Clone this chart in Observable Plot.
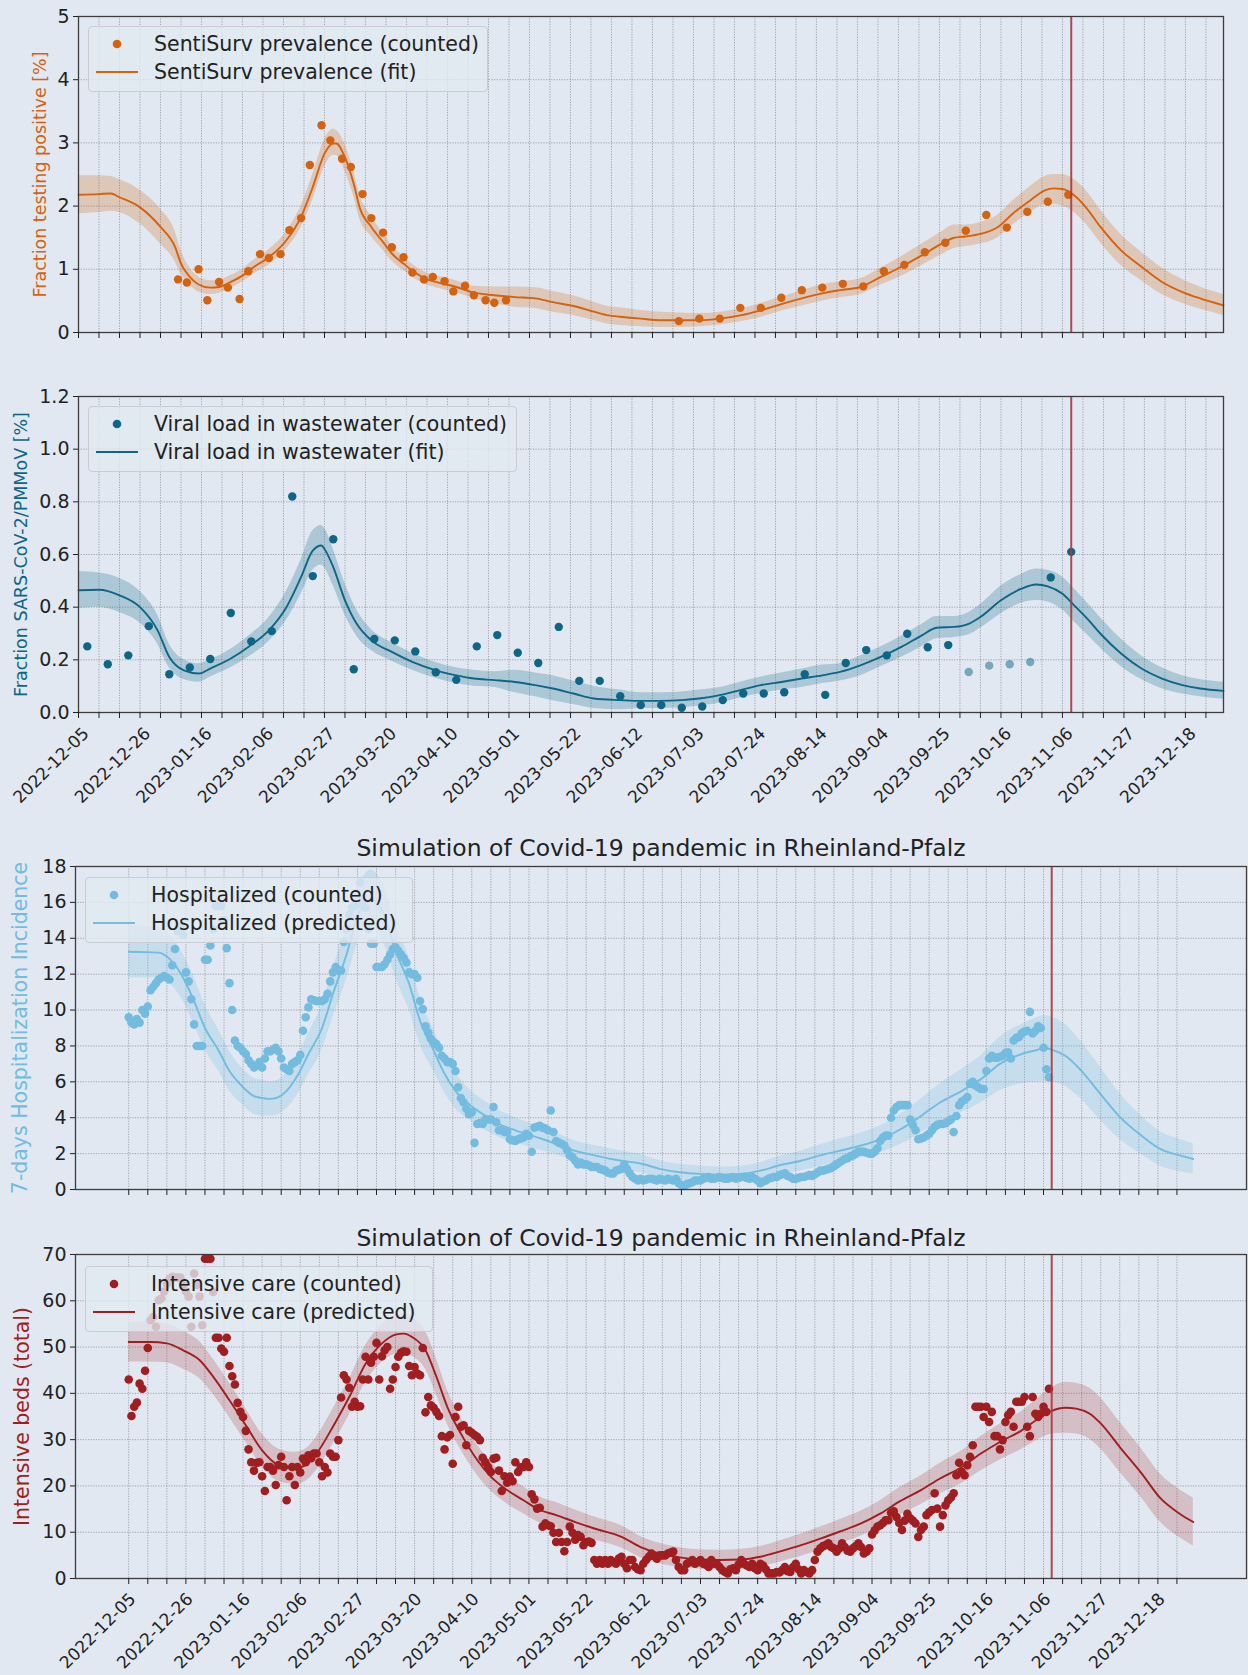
<!DOCTYPE html>
<html>
<head>
<meta charset="utf-8">
<script src="https://cdn.jsdelivr.net/npm/d3@7"></script>
<script src="https://cdn.jsdelivr.net/npm/@observablehq/plot@0.6"></script>
<style>
  html, body { margin: 0; padding: 0; background: #e1e8f1; }
  #fig { position: relative; width: 1248px; height: 1675px; background: #e1e8f1; font-family: "DejaVu Sans", sans-serif; overflow: hidden; }
  .legend { position: absolute; box-sizing: border-box; background: rgba(225,232,241,0.8); border: 1px solid #c9cdd3; border-radius: 4px; }
  .legend svg { position: absolute; left: 0; top: 0; }
  .lt { position: absolute; transform: translateY(-52%); font-size: 20.5px; color: #222; white-space: nowrap; }
</style>
</head>
<body>
<div id="fig"></div>
<script>
// ---------------- DATA ----------------
const startDate = "2022-12-05";           // day 0
const nowcastDate = "2023-11-09";         // vertical marker
const tickLabels = ["2022-12-05","2022-12-26","2023-01-16","2023-02-06","2023-02-27","2023-03-20","2023-04-10",
  "2023-05-01","2023-05-22","2023-06-12","2023-07-03","2023-07-24","2023-08-14","2023-09-04","2023-09-25",
  "2023-10-16","2023-11-06","2023-11-27","2023-12-18"];

// Panel 1: SentiSurv prevalence (days since start, %)
const sentiDays = [34,37,41,44,48,51,55,58,62,65,69,72,76,79,83,86,90,93,97,100,104,107,111,114,118,121,125,128,132,135,139,142,146,
  205,212,219,226,233,240,247,254,261,268,275,282,289,296,303,310,317,324,331,338];
const sentiValues = [0.84,0.79,1.00,0.51,0.80,0.71,0.53,0.97,1.24,1.18,1.24,1.62,1.81,2.65,3.28,3.04,2.75,2.62,2.19,1.81,1.58,1.35,1.19,0.95,0.84,0.88,0.81,0.65,0.74,0.59,0.51,0.47,0.51,
  0.18,0.22,0.22,0.39,0.39,0.55,0.67,0.71,0.77,0.73,0.97,1.07,1.27,1.42,1.61,1.86,1.66,1.91,2.07,2.18];
const sentiFitDays = [0,7,11,14,21,28,33,35,38,41,45,48,52,56,60,65,71,76,80,84,87,88,91,94,96,100,104,107,111,114,118,122,129,135,142,149,156,162,169,176,
  181,185,192,199,206,212,219,226,233,240,247,254,260,267,274,281,288,295,299,303,308,314,319,325,330,333,336,340,344,349,356,363,370,377,383,391];
const sentiFitValues = [2.18,2.19,2.20,2.14,1.98,1.67,1.35,1.09,0.88,0.76,0.71,0.72,0.80,0.90,1.04,1.19,1.46,1.83,2.30,2.83,2.99,2.99,2.77,2.35,1.98,1.67,1.43,1.25,1.09,0.98,
  0.86,0.80,0.72,0.63,0.59,0.56,0.54,0.48,0.42,0.33,0.27,0.25,0.22,0.195,0.195,0.195,0.22,0.27,0.35,0.45,0.54,0.62,0.67,0.72,0.88,1.04,1.22,1.41,1.50,1.52,
  1.56,1.67,1.88,2.09,2.25,2.28,2.27,2.17,1.98,1.67,1.30,1.04,0.80,0.64,0.54,0.43];
const sentiFitLow = [1.88,1.90,1.92,1.90,1.72,1.40,1.12,0.92,0.75,0.64,0.60,0.62,0.70,0.80,0.93,1.07,1.32,1.66,2.10,2.62,2.80,2.80,2.55,2.15,1.80,1.52,1.30,1.13,0.98,0.88,
  0.77,0.71,0.63,0.54,0.46,0.40,0.38,0.32,0.27,0.19,0.13,0.11,0.09,0.08,0.08,0.09,0.12,0.17,0.24,0.34,0.42,0.50,0.55,0.60,0.75,0.89,1.06,1.24,1.33,1.36,
  1.40,1.50,1.70,1.90,2.02,2.03,2.00,1.90,1.72,1.42,1.06,0.82,0.60,0.46,0.37,0.27];
const sentiFitHigh = [2.48,2.48,2.47,2.42,2.25,1.95,1.60,1.30,1.02,0.88,0.82,0.83,0.90,1.00,1.15,1.31,1.60,2.00,2.50,3.05,3.22,3.20,2.98,2.55,2.18,1.84,1.57,1.38,1.20,1.08,
  0.96,0.90,0.82,0.73,0.72,0.72,0.71,0.65,0.58,0.48,0.41,0.39,0.35,0.32,0.31,0.30,0.32,0.37,0.46,0.56,0.66,0.76,0.80,0.85,1.02,1.20,1.40,1.60,1.70,1.70,
  1.74,1.86,2.08,2.31,2.47,2.50,2.50,2.42,2.25,1.94,1.55,1.27,1.02,0.84,0.72,0.60];

// Panel 2: viral load in wastewater
const wwDays = [3,10,17,24,31,38,45,52,59,66,73,80,87,94,101,108,115,122,129,136,143,150,157,164,171,178,185,
  192,199,206,213,220,227,234,241,248,255,262,269,276,283,290,297,304,311,318,325,332,339];
const wwValues = [0.251,0.183,0.217,0.328,0.145,0.171,0.203,0.378,0.270,0.309,0.820,0.518,0.658,0.164,0.279,0.274,0.232,0.153,0.124,0.251,0.294,0.227,0.188,0.325,0.120,0.120,0.062,
  0.028,0.028,0.018,0.023,0.047,0.072,0.072,0.077,0.145,0.067,0.188,0.237,0.217,0.299,0.248,0.256,0.154,0.178,0.183,0.192,0.513,0.610];
const wwProvisionalDays = [304,311,318,325];
const wwFitDays = [0,7,14,21,27,31,36,41,45,52,58,65,71,76,80,83,84,87,91,95,100,107,114,122,129,135,142,149,156,162,
  169,176,185,192,199,206,212,219,226,233,240,247,254,260,267,274,281,288,293,299,304,308,315,322,327,331,336,340,345,349,356,363,370,377,383,391];
const wwFitValues = [0.464,0.466,0.445,0.40,0.312,0.211,0.16,0.148,0.167,0.205,0.249,0.312,0.40,0.514,0.615,0.634,0.621,0.552,0.426,0.337,
  0.274,0.23,0.192,0.16,0.141,0.129,0.123,0.116,0.104,0.091,0.072,0.053,0.047,0.044,0.044,0.047,0.053,0.066,0.085,0.104,
  0.116,0.129,0.141,0.154,0.179,0.211,0.249,0.293,0.322,0.325,0.337,0.363,0.426,0.47,0.486,0.479,0.451,0.407,0.35,0.299,
  0.224,0.167,0.129,0.104,0.091,0.082];
const wwFitLow = [0.395,0.40,0.38,0.34,0.26,0.17,0.125,0.115,0.135,0.17,0.21,0.27,0.35,0.45,0.54,0.56,0.55,0.48,0.37,0.29,
  0.235,0.195,0.16,0.13,0.11,0.10,0.095,0.075,0.06,0.045,0.03,0.015,0.01,0.015,0.015,0.018,0.025,0.035,0.055,0.072,
  0.085,0.095,0.11,0.12,0.14,0.175,0.21,0.25,0.28,0.285,0.295,0.32,0.375,0.415,0.425,0.42,0.39,0.345,0.29,0.245,
  0.175,0.125,0.09,0.07,0.06,0.05];
const wwFitHigh = [0.535,0.53,0.51,0.46,0.37,0.26,0.20,0.185,0.20,0.24,0.29,0.36,0.46,0.58,0.69,0.71,0.70,0.62,0.49,0.39,
  0.315,0.265,0.225,0.19,0.17,0.16,0.155,0.16,0.15,0.14,0.12,0.10,0.085,0.075,0.075,0.078,0.085,0.095,0.115,0.135,
  0.15,0.165,0.18,0.185,0.215,0.25,0.29,0.335,0.365,0.365,0.38,0.41,0.48,0.525,0.545,0.54,0.515,0.47,0.41,0.36,
  0.28,0.215,0.17,0.14,0.125,0.115];

// Panel 3: 7-day hospitalization incidence, one value per day from startDate
const hospCounted = [
  9.6,9.3,9.2,9.5,9.3,10.0,9.8,10.2,11.1,11.3,        // 0-9
  11.5,11.7,11.8,11.9,11.8,11.7,12.5,13.4,14.4,14.6,  // 10-19
  14.2,12.1,11.6,10.6,9.2,8.0,8.0,8.0,12.8,12.8,      // 20-29
  13.6,14.5,15.8,15.8,15.8,15.0,13.45,11.5,10.0,8.3,  // 30-39
  8.0,7.9,7.7,7.55,7.2,7.0,6.8,6.9,7.1,6.8,           // 40-49
  7.3,7.7,7.7,7.8,7.9,7.7,7.3,6.8,6.7,6.6,            // 50-59
  7.0,7.1,7.2,7.5,8.85,9.6,10.15,10.6,10.55,10.5,     // 60-69
  10.5,10.5,10.6,10.9,11.6,12.1,12.4,12.2,12.2,13.8,  // 70-79
  14.5,15.3,15.7,15.8,15.9,17.1,16.0,15.7,14.5,13.7,  // 80-89
  13.7,12.4,12.4,12.4,12.55,12.8,13.1,13.4,13.5,13.3, // 90-99
  13.1,12.9,12.65,12.1,12.0,12.0,11.8,10.5,10.05,9.1, // 100-109
  8.75,8.4,8.2,8.1,7.9,7.45,7.3,7.1,7.1,7.0,          // 110-119
  6.6,5.7,5.1,4.85,4.5,4.2,4.3,2.6,3.65,3.7,          // 120-129
  3.65,3.9,3.9,3.9,4.6,3.75,3.3,3.3,3.2,3.2,          // 130-139
  2.8,2.75,2.7,2.8,2.85,2.9,3.1,3.0,2.1,3.45,         // 140-149
  3.5,3.55,3.45,3.4,3.3,4.4,3.2,2.7,2.6,2.55,         // 150-159
  2.45,2.2,1.9,1.8,1.6,1.4,1.5,1.4,1.4,1.35,          // 160-169
  1.25,1.25,1.25,1.15,1.1,1.05,0.95,0.9,0.9,1.05,     // 170-179
  1.1,1.15,1.4,1.15,0.9,0.7,0.6,0.5,0.6,0.5,          // 180-189
  0.55,0.6,0.6,0.55,0.5,0.6,0.55,0.5,0.6,0.55,        // 190-199
  0.5,0.6,0.35,0.25,0.2,0.3,0.35,0.4,0.5,0.5,         // 200-209
  0.5,0.6,0.65,0.7,0.6,0.6,0.65,0.7,0.65,0.6,         // 210-219
  0.6,0.65,0.7,0.6,0.65,0.7,0.7,0.65,0.6,0.7,         // 220-229
  0.6,0.5,0.35,0.45,0.5,0.6,0.65,0.7,0.7,0.8,         // 230-239
  0.85,0.9,0.75,0.7,0.6,0.6,0.65,0.7,0.7,0.75,        // 240-249
  0.8,0.75,0.85,0.95,1.05,1.05,1.1,1.15,1.2,1.3,      // 250-259
  1.4,1.5,1.6,1.7,1.75,1.85,1.9,2.0,2.1,2.1,          // 260-269
  2.1,2.05,2.0,2.0,2.1,2.3,2.7,2.9,3.0,3.0,           // 270-279
  4.0,4.4,4.6,4.7,4.7,4.7,4.7,3.9,3.6,3.3,            // 280-289
  2.8,2.85,2.9,3.0,3.1,3.3,3.5,3.6,3.65,3.65,         // 290-299
  3.7,3.8,3.9,3.2,4.1,4.7,4.9,5.0,5.15,5.9,           // 300-309
  6.0,5.8,5.7,5.6,5.6,6.6,7.3,7.45,7.35,7.35,         // 310-319
  7.4,7.45,7.6,7.65,7.3,8.3,8.45,8.5,8.7,8.8,         // 320-329
  8.85,9.9,8.7,8.85,9.1,9.0,7.9,6.7,6.25              // 330-338
];
const hospPredDays = [0,11,15,20,24,28,33,37,42,46,49,52,55,58,62,66,71,75,80,84,87,89,91,94,98,103,107,112,116,120,
  125,131,136,142,150,157,164,171,181,188,195,203,210,217,225,232,239,247,254,261,269,276,284,291,298,306,313,320,328,334,
  336,339,344,350,357,364,372,379,386,391];
const hospPredValues = [13.25,13.2,12.85,11.8,10.5,9.0,7.75,6.6,5.7,5.2,5.1,5.05,5.15,5.5,6.35,7.55,9.0,10.9,13.1,15.2,
  16.0,16.2,16.0,15.2,13.3,11.45,9.4,7.75,6.45,5.5,4.75,4.1,3.65,3.3,2.9,2.55,2.15,1.9,1.6,1.45,
  1.15,0.95,0.87,0.83,0.87,1.05,1.35,1.6,1.9,2.15,2.45,2.8,3.4,4.1,4.85,5.5,6.15,7.0,7.55,7.8,
  7.9,7.8,7.45,6.6,5.3,4.05,3.0,2.25,1.9,1.7];
const hospPredLow = [11.8,11.8,11.5,10.5,9.2,7.8,6.6,5.5,4.7,4.2,4.1,4.1,4.2,4.5,5.3,6.4,7.8,9.6,11.7,13.7,
  14.5,14.6,14.4,13.6,11.8,10.0,8.1,6.6,5.4,4.5,3.9,3.3,2.9,2.6,2.25,1.95,1.6,1.35,1.05,0.95,
  0.7,0.5,0.45,0.4,0.45,0.6,0.85,1.05,1.3,1.5,1.75,2.05,2.55,3.15,3.8,4.3,4.85,5.5,5.9,6.0,
  6.05,6.0,5.75,5.0,3.85,2.8,1.95,1.3,1.0,0.85];
const hospPredHigh = [14.7,14.6,14.2,13.1,11.8,10.3,8.9,7.7,6.7,6.2,6.1,6.0,6.1,6.5,7.4,8.7,10.3,12.3,14.6,16.8,
  17.6,17.8,17.6,16.8,14.8,12.9,10.7,8.9,7.5,6.5,5.6,4.9,4.4,4.0,3.55,3.15,2.7,2.45,2.15,1.95,
  1.6,1.4,1.3,1.25,1.3,1.5,1.85,2.15,2.5,2.8,3.15,3.55,4.25,5.05,5.9,6.7,7.45,8.5,9.2,9.6,
  9.7,9.6,9.2,8.2,6.8,5.35,4.1,3.2,2.8,2.55];

// Panel 4: intensive care beds, one value per day from startDate
const icuCounted = [
  43.0,35.1,37.1,38.0,42.1,41.0,44.9,49.8,55.8,56.5,  // 0-9
  54.4,60.1,60.5,62.0,63.7,64.8,65.2,65.0,65.0,65.0,  // 10-19
  63.4,62.0,60.9,54.4,65.9,63.4,60.9,54.7,69.1,69.1,  // 20-29
  69.1,61.9,52.0,52.0,49.7,49.0,52.0,45.9,43.7,41.9,  // 30-39
  37.95,36.0,34.9,31.9,27.9,25.1,23.3,25.0,25.1,22.1, // 40-49
  18.9,24.1,24.1,23.3,20.2,24.5,26.3,24.1,16.9,22.1,  // 50-59
  24.1,20.2,24.1,22.9,25.9,25.1,26.6,26.0,27.0,27.0,  // 60-69
  25.1,22.1,24.1,22.9,27.0,26.3,26.3,29.9,39.1,43.9,  // 70-79
  43.0,41.2,37.1,38.2,37.1,37.2,43.0,47.9,43.0,46.6,  // 80-89
  47.9,50.9,43.0,48.0,49.3,50.0,41.0,43.0,45.7,47.9,  // 90-99
  48.75,49.1,49.0,45.9,43.9,45.7,44.3,43.9,49.8,35.9, // 100-109
  39.2,37.4,36.9,36.0,35.1,30.75,27.9,30.5,31.0,24.8, // 110-119
  34.9,37.1,32.8,33.1,28.8,31.9,31.5,31.0,30.6,29.9,  // 120-129
  26.1,25.1,24.1,23.0,25.9,26.1,23.3,18.9,22.1,20.7,  // 130-139
  22.0,21.0,25.1,23.0,24.0,24.1,25.1,24.1,18.2,17.1,  // 140-149
  15.1,15.3,11.2,11.9,11.5,11.3,9.9,7.9,9.9,7.9,      // 150-159
  5.9,7.9,11.2,9.9,8.4,9.4,9.0,7.2,7.9,8.0,           // 160-169
  7.7,4.0,3.2,4.0,3.2,4.0,3.2,4.0,3.5,3.2,            // 170-179
  4.3,4.7,3.2,2.2,4.0,4.0,2.5,2.0,1.8,3.2,            // 180-189
  4.0,4.7,5.4,4.8,4.3,5.0,5.0,5.0,5.4,5.6,            // 190-199
  5.8,4.0,2.5,1.8,1.8,3.2,3.5,4.0,3.2,3.5,            // 200-209
  4.0,3.2,3.0,2.5,4.0,3.2,3.2,2.5,1.8,1.4,            // 210-219
  1.1,2.0,2.2,1.8,3.0,4.0,3.2,2.8,2.5,3.2,            // 220-229
  2.2,1.8,3.2,2.8,2.0,1.1,1.1,1.1,1.4,1.3,            // 230-239
  1.8,2.5,1.6,1.4,2.5,3.2,2.0,1.1,1.8,1.4,            // 240-249
  1.1,1.8,4.0,5.8,6.5,7.0,7.2,7.6,6.8,6.5,            // 250-259
  5.8,6.5,7.6,6.8,6.0,5.8,6.5,7.0,7.6,6.8,            // 260-269
  5.4,5.8,6.5,9.5,10.4,11.2,11.5,12.0,12.6,12.6,      // 270-279
  14.2,14.5,13.3,12.0,10.5,12.5,14.0,13.0,12.5,11.9,  // 280-289
  9.0,10.5,11.2,13.7,14.3,14.8,18.4,15.1,11.2,13.7,   // 290-299
  15.8,16.9,17.5,18.4,22.3,25.0,23.0,22.3,24.5,26.3,  // 300-309
  28.8,37.1,37.1,37.1,34.9,37.1,33.8,36.0,30.75,30.75,// 310-319
  27.9,29.9,33.8,35.3,36.0,32.8,38.2,38.2,38.2,39.2,  // 320-329
  32.8,30.75,39.2,35.6,34.9,35.6,37.1,36.0,41.0       // 330-338
];
const icuPredDays = [0,8,14,20,26,31,37,43,49,55,61,65,69,75,81,87,93,98,101,104,109,113,117,122,128,133,139,145,151,157,
  164,171,181,188,195,203,210,217,225,232,239,247,254,261,269,276,283,291,298,306,313,320,328,335,339,344,348,353,357,364,
  372,379,386,391];
const icuPredValues = [51.1,51.1,50.8,49.3,47.2,43.6,38.5,33.1,27.7,24.5,23.8,24.5,27.0,32.8,39.2,46.4,50.8,52.7,52.9,52.2,
  49.3,43.6,37.1,31.3,25.6,22.0,19.1,16.9,14.8,13.7,12.2,10.8,9.0,6.8,5.4,4.5,4.1,4.0,4.1,4.7,
  5.8,7.2,8.6,10.1,11.9,14.0,16.6,19.1,21.6,24.1,27.0,29.5,32.0,34.9,36.2,36.9,36.7,35.6,33.5,28.4,
  22.7,17.3,14.0,12.2];
const icuPredLow = [46.8,46.8,46.6,45.2,43.2,39.8,34.8,29.5,24.2,21.0,20.3,21.0,23.4,29.0,35.3,42.4,46.7,48.5,48.7,48.0,
  45.2,39.7,33.4,27.8,22.3,18.9,16.1,14.0,12.0,11.0,9.6,8.3,6.6,4.5,3.2,2.4,2.0,1.9,2.0,2.5,
  3.5,4.8,6.1,7.5,9.2,11.2,13.6,16.0,18.3,20.6,23.3,25.6,27.9,30.3,31.2,31.4,31.2,30.1,28.0,23.0,
  17.4,12.1,8.8,7.0];
const icuPredHigh = [55.4,55.4,55.0,53.4,51.2,47.4,42.2,36.7,31.2,28.0,27.3,28.0,30.6,36.6,43.1,50.4,54.9,56.9,57.1,56.4,
  53.4,47.5,40.8,34.8,28.9,25.1,22.1,19.8,17.6,16.4,14.8,13.3,11.4,9.1,7.6,6.6,6.2,6.1,6.3,6.9,
  8.1,9.6,11.1,12.7,14.6,16.8,19.6,22.2,24.9,27.6,30.7,33.4,36.1,39.5,41.2,42.4,42.2,41.1,39.0,33.8,
  28.0,22.5,19.2,17.4];

// ---------------- HELPERS ----------------
const t0 = new Date(startDate + "T00:00:00Z");
const day = (n) => new Date(t0.getTime() + n * 864e5);
const fig = document.getElementById("fig");

const C_SENTI = "#d4620f", C_WW = "#0e6687", C_HOSP = "#73bce0", C_ICU = "#a01d20", C_NOW = "#a63a3c";
const GRID = "#8b8f96";

const fitRows = (days, v, lo, hi) => days.map((d, i) => ({date: day(d), value: v[i], low: lo[i], high: hi[i]}));
const dailyRows = (vals) => vals.map((v, i) => ({date: day(i), value: v}));

const lastPred = day(391);
const weekly = d3.utcMonday.range(day(0), lastPred);
const majors = tickLabels.map(s => new Date(s + "T00:00:00Z"));

function panel(o) {
  const marks = [
    Plot.ruleX(weekly, {stroke: GRID, strokeDasharray: "1.2,1.4", strokeWidth: 0.9, strokeOpacity: 0.85}),
    Plot.ruleY(o.yTicks.slice(1, -1), {stroke: GRID, strokeDasharray: "1.2,1.4", strokeWidth: 0.9, strokeOpacity: 0.85}),
    ...o.marks,
    Plot.ruleX([new Date(nowcastDate + "T00:00:00Z")], {stroke: C_NOW, strokeWidth: 2, strokeOpacity: 0.9}),
    Plot.frame({stroke: "#3d3d3d", strokeWidth: 1.3}),
    Plot.axisY(o.yTicks, {tickSize: 5, tickPadding: 4, fontSize: 19, tickFormat: o.yFmt, label: null}),
    Plot.axisX(weekly, {tickSize: 6, tickFormat: () => "", label: null}),
    Plot.text([o.ylabel], {frameAnchor: "left", dx: o.ylabelDx, rotate: -90, fill: o.color, fontSize: o.ylabelSize, textAnchor: "middle", lineAnchor: "middle"})
  ];
  if (o.dateLabels) {
    marks.push(Plot.text(majors, {x: d => d, text: (d, i) => tickLabels[i], frameAnchor: "bottom", dx: o.labelDx, dy: o.labelDy,
      rotate: -45, textAnchor: "end", lineAnchor: "bottom", fontSize: 17, fill: "#222"}));
  }
  if (o.title) {
    marks.push(Plot.text([o.title], {frameAnchor: "top", dy: o.titleDy, fontSize: 23.5, fill: "#222", lineAnchor: "middle"}));
  }
  const p = Plot.plot({
    width: 1248, height: o.height,
    marginTop: o.mt, marginBottom: o.mb, marginLeft: o.ml, marginRight: o.mr,
    style: {background: "transparent", fontFamily: "DejaVu Sans, sans-serif", color: "#222", overflow: "visible"},
    x: {type: "utc", domain: o.xDomain, axis: null},
    y: {domain: o.yDomain, axis: null},
    marks
  });
  p.style.position = "absolute";
  p.style.left = "0px";
  p.style.top = o.top + "px";
  fig.appendChild(p);
}

function legend(left, top, width, color, dotText, lineText) {
  const div = document.createElement("div");
  div.className = "legend";
  Object.assign(div.style, {left: left + "px", top: top + "px", width: width + "px", height: "66px"});
  div.innerHTML = `<svg width="60" height="66"><circle cx="28" cy="17" r="4.3" fill="${color}"/>
    <line x1="7" x2="49" y1="45" y2="45" stroke="${color}" stroke-width="2"/></svg>
    <div class="lt" style="left:65px;top:17px">${dotText}</div>
    <div class="lt" style="left:65px;top:45px">${lineText}</div>`;
  fig.appendChild(div);
}

const domA = [day(0), lastPred];
const pad = (lastPred - day(0)) * 0.05;
const domB = [new Date(day(0).getTime() - pad), new Date(lastPred.getTime() + pad)];

// Panel 1
const sentiFit = fitRows(sentiFitDays, sentiFitValues, sentiFitLow, sentiFitHigh);
panel({
  top: 0, height: 350, mt: 16, mb: 18, ml: 78, mr: 25,
  xDomain: domA, yDomain: [0, 5], yTicks: [0,1,2,3,4,5], yFmt: d => d,
  color: C_SENTI, ylabel: "Fraction testing positive [%]", ylabelDx: -38, ylabelSize: 17.5,
  marks: [
    Plot.areaY(sentiFit, {x: "date", y1: "low", y2: "high", fill: C_SENTI, fillOpacity: 0.25, curve: "monotone-x"}),
    Plot.lineY(sentiFit, {x: "date", y: "value", stroke: C_SENTI, strokeWidth: 1.9, curve: "monotone-x"}),
    Plot.dot(sentiDays.map((d, i) => ({date: day(d), value: sentiValues[i]})), {x: "date", y: "value", r: 4.2, fill: C_SENTI})
  ]
});

// Panel 2
const wwFit = fitRows(wwFitDays, wwFitValues, wwFitLow, wwFitHigh);
const wwRows = wwDays.map((d, i) => ({date: day(d), value: wwValues[i], provisional: wwProvisionalDays.includes(d)}));
panel({
  top: 380, height: 440, mt: 16, mb: 108, ml: 78, mr: 25,
  xDomain: domA, yDomain: [0, 1.2], yTicks: [0,0.2,0.4,0.6,0.8,1.0,1.2], yFmt: d3.format(".1f"),
  color: C_WW, ylabel: "Fraction SARS-CoV-2/PMMoV [%]", ylabelDx: -57, ylabelSize: 17.5,
  dateLabels: true, labelDx: 11.5, labelDy: 22,
  marks: [
    Plot.areaY(wwFit, {x: "date", y1: "low", y2: "high", fill: C_WW, fillOpacity: 0.25, curve: "monotone-x"}),
    Plot.lineY(wwFit, {x: "date", y: "value", stroke: C_WW, strokeWidth: 1.9, curve: "monotone-x"}),
    Plot.dot(wwRows.filter(r => !r.provisional), {x: "date", y: "value", r: 4.2, fill: C_WW}),
    Plot.dot(wwRows.filter(r => r.provisional), {x: "date", y: "value", r: 4.2, fill: C_WW, fillOpacity: 0.5})
  ]
});

// Panel 3
const hospPred = fitRows(hospPredDays, hospPredValues, hospPredLow, hospPredHigh);
panel({
  top: 830, height: 370, mt: 36, mb: 11, ml: 75, mr: 2,
  xDomain: domB, yDomain: [0, 18], yTicks: [0,2,4,6,8,10,12,14,16,18], yFmt: d => d,
  color: C_HOSP, ylabel: "7-days Hospitalization Incidence", ylabelDx: -55, ylabelSize: 20.5,
  title: "Simulation of Covid-19 pandemic in Rheinland-Pfalz", titleDy: -18,
  marks: [
    Plot.areaY(hospPred, {x: "date", y1: "low", y2: "high", fill: C_HOSP, fillOpacity: 0.25, curve: "monotone-x"}),
    Plot.lineY(hospPred, {x: "date", y: "value", stroke: C_HOSP, strokeWidth: 1.9, curve: "monotone-x"}),
    Plot.dot(dailyRows(hospCounted), {x: "date", y: "value", r: 4.3, fill: C_HOSP})
  ]
});

// Panel 4
const icuPred = fitRows(icuPredDays, icuPredValues, icuPredLow, icuPredHigh);
panel({
  top: 1215, height: 460, mt: 39, mb: 97, ml: 75, mr: 2,
  xDomain: domB, yDomain: [0, 70], yTicks: [0,10,20,30,40,50,60,70], yFmt: d => d,
  color: C_ICU, ylabel: "Intensive beds (total)", ylabelDx: -53, ylabelSize: 20.5,
  title: "Simulation of Covid-19 pandemic in Rheinland-Pfalz", titleDy: -16,
  dateLabels: true, labelDx: 8, labelDy: 21.5,
  marks: [
    Plot.areaY(icuPred, {x: "date", y1: "low", y2: "high", fill: C_ICU, fillOpacity: 0.2, curve: "monotone-x"}),
    Plot.lineY(icuPred, {x: "date", y: "value", stroke: C_ICU, strokeWidth: 1.9, curve: "monotone-x"}),
    Plot.dot(dailyRows(icuCounted), {x: "date", y: "value", r: 4.3, fill: C_ICU})
  ]
});

legend(88, 26, 400, C_SENTI, "SentiSurv prevalence (counted)", "SentiSurv prevalence (fit)");
legend(88, 406, 429, C_WW, "Viral load in wastewater (counted)", "Viral load in wastewater (fit)");
legend(85, 877, 328, C_HOSP, "Hospitalized (counted)", "Hospitalized (predicted)");
legend(85, 1266, 348, C_ICU, "Intensive care (counted)", "Intensive care (predicted)");
</script>
</body>
</html>
